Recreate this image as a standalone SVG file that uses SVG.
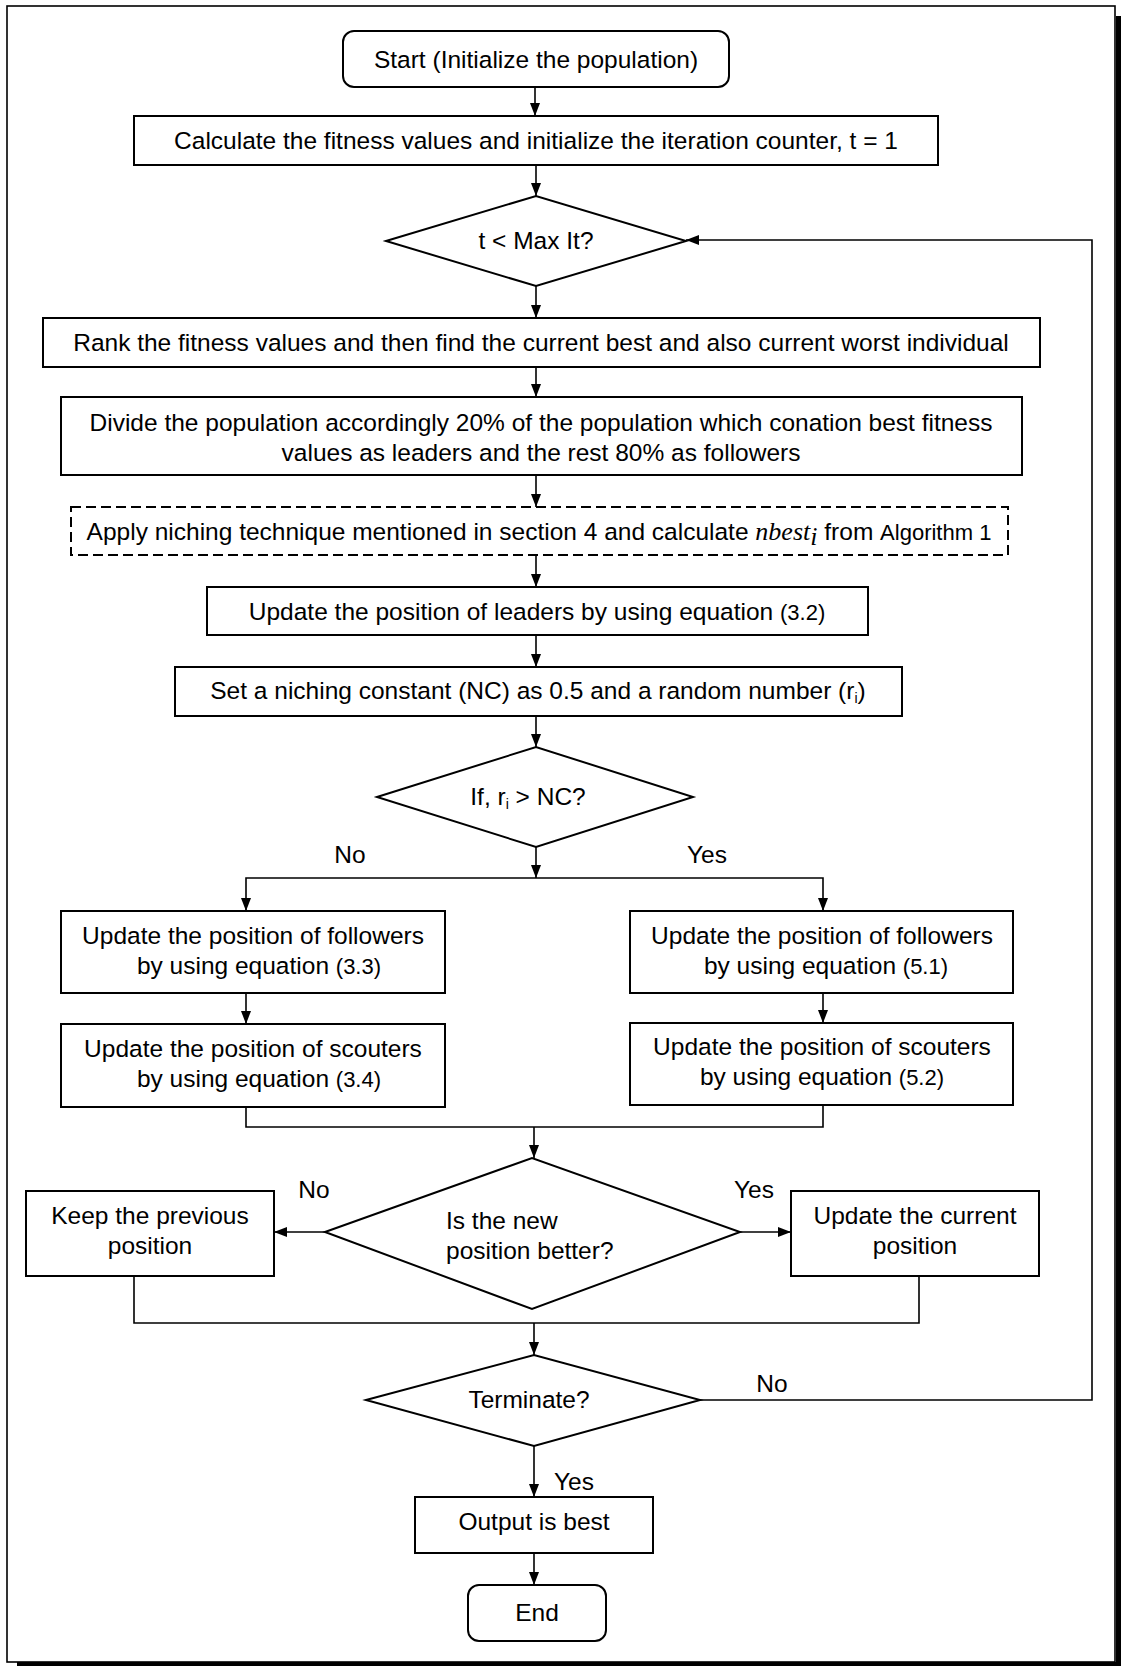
<svg xmlns="http://www.w3.org/2000/svg" width="1121" height="1666" viewBox="0 0 1121 1666">
<defs>
<marker id="ah" markerUnits="userSpaceOnUse" markerWidth="13" markerHeight="10" refX="13" refY="5" orient="auto">
<path d="M0,0 L13,5 L0,10 z" fill="#000"/>
</marker>
<style>
.box{fill:#fff;stroke:#000;stroke-width:2}
.dash{fill:#fff;stroke:#000;stroke-width:2;stroke-dasharray:10,5}
.t{font-family:"Liberation Sans",Arial,sans-serif;font-size:24.5px;fill:#000;text-anchor:middle}
.eq{font-size:22px}
.alg{font-size:22px}
.m{font-family:"Liberation Serif","Times New Roman",serif;font-style:italic;font-size:26px}
.c{fill:none;stroke:#000;stroke-width:1.6}
.a{fill:none;stroke:#000;stroke-width:1.6;marker-end:url(#ah)}
</style>
</defs>
<rect x="0" y="0" width="1121" height="1666" fill="#fff"/>
<g id="frame">
<rect x="7" y="6" width="1108" height="1656" fill="none" stroke="#000" stroke-width="1.6"/>
<rect x="1116" y="16" width="5" height="1650" fill="#000"/>
<rect x="17" y="1662" width="1104" height="4" fill="#000"/>
</g>
<g id="connectors">
<path class="a" d="M535,87 V116"/>
<path class="a" d="M536,165 V196"/>
<path class="a" d="M536,286 V318"/>
<path class="a" d="M536,367 V397"/>
<path class="a" d="M536,475 V507"/>
<path class="a" d="M536,555 V587"/>
<path class="a" d="M536,635 V667"/>
<path class="a" d="M536,716 V747"/>
<path class="a" d="M536,847 V878"/>
<path class="a" d="M536,878 H246 V911"/>
<path class="a" d="M536,878 H823 V911"/>
<path class="a" d="M246,993 V1024"/>
<path class="a" d="M823,993 V1023"/>
<path class="c" d="M246,1107 V1127 H823 V1105"/>
<path class="a" d="M534,1127 V1158"/>
<path class="a" d="M325,1232 H274"/>
<path class="a" d="M740,1232 H791"/>
<path class="c" d="M134,1276 V1323 H919 V1276"/>
<path class="a" d="M534,1323 V1355"/>
<path class="a" d="M534,1446 V1497"/>
<path class="a" d="M534,1553 V1585"/>
<path class="a" d="M700,1400 H1092 V240 H686"/>
<text class="t" x="350" y="863">No</text>
<text class="t" x="707" y="863">Yes</text>
<text class="t" x="314" y="1198">No</text>
<text class="t" x="754" y="1198">Yes</text>
<text class="t" x="772" y="1392">No</text>
<text class="t" x="574" y="1490">Yes</text>
</g>
<g id="start">
<rect class="box" x="343" y="31" width="386" height="56" rx="11"/>
<text class="t" x="536" y="68">Start (Initialize the population)</text>
</g>
<g id="calc">
<rect class="box" x="134" y="116" width="804" height="49"/>
<text class="t" x="536" y="149">Calculate the fitness values and initialize the iteration counter, t = 1</text>
</g>
<g id="maxit">
<polygon class="box" points="386,241 536,196 686,241 536,286"/>
<text class="t" x="536" y="249">t &lt; Max It?</text>
</g>
<g id="rank">
<rect class="box" x="43" y="318" width="997" height="49"/>
<text class="t" x="541" y="351">Rank the fitness values and then find the current best and also current worst individual</text>
</g>
<g id="divide">
<rect class="box" x="61" y="397" width="961" height="78"/>
<text class="t" x="541" y="431">Divide the population accordingly 20% of the population which conation best fitness</text>
<text class="t" x="541" y="461">values as leaders and the rest 80% as followers</text>
</g>
<g id="niching">
<rect class="dash" x="71" y="507" width="937" height="48"/>
<text class="t" x="539" y="540">Apply niching technique mentioned in section 4 and calculate <tspan class="m">nbest</tspan><tspan class="m" font-size="16" dy="5">i</tspan><tspan dy="-5"> from </tspan><tspan class="alg">Algorithm 1</tspan></text>
</g>
<g id="leaders">
<rect class="box" x="207" y="587" width="661" height="48"/>
<text class="t" x="537" y="620">Update the position of leaders by using equation <tspan class="eq">(3.2)</tspan></text>
</g>
<g id="setnc">
<rect class="box" x="175" y="667" width="727" height="49"/>
<text class="t" x="538" y="699">Set a niching constant (NC) as 0.5 and a random number (r<tspan font-size="14" dy="4">i</tspan><tspan dy="-4">)</tspan></text>
</g>
<g id="ifnc">
<polygon class="box" points="377,797 536,747 693,797 536,847"/>
<text class="t" x="528" y="805">If, r<tspan font-size="14" dy="4">i</tspan><tspan dy="-4"> &gt; NC?</tspan></text>
</g>
<g id="followers-left">
<rect class="box" x="61" y="911" width="384" height="82"/>
<text class="t" x="253" y="944">Update the position of followers</text>
<text class="t" x="259" y="974">by using equation <tspan class="eq">(3.3)</tspan></text>
</g>
<g id="followers-right">
<rect class="box" x="630" y="911" width="383" height="82"/>
<text class="t" x="822" y="944">Update the position of followers</text>
<text class="t" x="826" y="974">by using equation <tspan class="eq">(5.1)</tspan></text>
</g>
<g id="scouters-left">
<rect class="box" x="61" y="1024" width="384" height="83"/>
<text class="t" x="253" y="1057">Update the position of scouters</text>
<text class="t" x="259" y="1087">by using equation <tspan class="eq">(3.4)</tspan></text>
</g>
<g id="scouters-right">
<rect class="box" x="630" y="1023" width="383" height="82"/>
<text class="t" x="822" y="1055">Update the position of scouters</text>
<text class="t" x="822" y="1085">by using equation <tspan class="eq">(5.2)</tspan></text>
</g>
<g id="better">
<polygon class="box" points="325,1232 532,1158 740,1232 532,1309"/>
<text class="t" x="446" y="1229" style="text-anchor:start">Is the new</text>
<text class="t" x="446" y="1259" style="text-anchor:start">position better?</text>
</g>
<g id="keep">
<rect class="box" x="26" y="1191" width="248" height="85"/>
<text class="t" x="150" y="1224">Keep the previous</text>
<text class="t" x="150" y="1254">position</text>
</g>
<g id="update-current">
<rect class="box" x="791" y="1191" width="248" height="85"/>
<text class="t" x="915" y="1224">Update the current</text>
<text class="t" x="915" y="1254">position</text>
</g>
<g id="terminate">
<polygon class="box" points="366,1400 534,1355 700,1400 534,1446"/>
<text class="t" x="529" y="1408">Terminate?</text>
</g>
<g id="output">
<rect class="box" x="415" y="1497" width="238" height="56"/>
<text class="t" x="534" y="1530">Output is best</text>
</g>
<g id="end">
<rect class="box" x="468" y="1585" width="138" height="56" rx="11"/>
<text class="t" x="537" y="1621">End</text>
</g>
</svg>
